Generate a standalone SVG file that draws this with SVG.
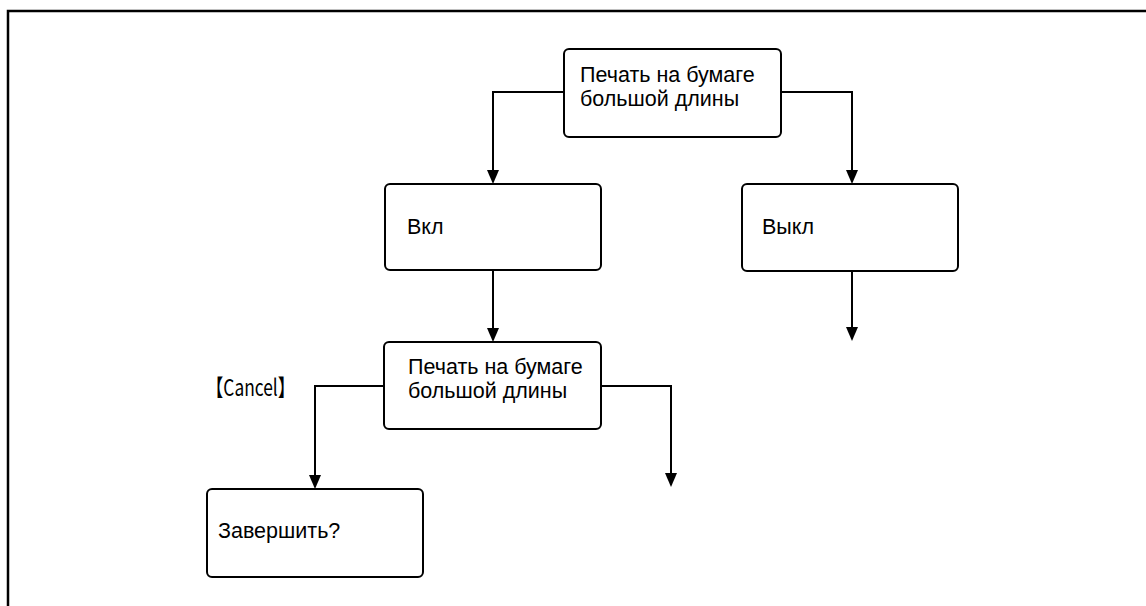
<svg xmlns="http://www.w3.org/2000/svg" width="1146" height="606" viewBox="0 0 1146 606">
<style>
.box{fill:#fff;stroke:#000;stroke-width:2}
.t{font-family:"Liberation Sans",Arial,sans-serif;font-size:21.5px;fill:#000}
.c{fill:none;stroke:#000;stroke-width:2}
.j{font-family:"Noto Sans CJK JP","DejaVu Sans Condensed",sans-serif;font-size:23px;fill:#000}
</style>
<path d="M8,606 V11 H1146" fill="none" stroke="#000" stroke-width="2.5"/>
<g id="connectors">
<path class="c" d="M564,92 H493 V170"/>
<path class="c" d="M781,92 H852 V170"/>
<path class="c" d="M493,270 V328"/>
<path class="c" d="M852,271 V327"/>
<path class="c" d="M384,386 H315 V475"/>
<path class="c" d="M601,386 H671 V473"/>
<path d="M487,170 H499 L493,184 Z"/>
<path d="M846,170 H858 L852,184 Z"/>
<path d="M487,328 H499 L493,342 Z"/>
<path d="M846,327 H858 L852,341 Z"/>
<path d="M309,475 H321 L315,489 Z"/>
<path d="M665,473 H677 L671,487 Z"/>
<text class="j" x="206" y="396" textLength="89" lengthAdjust="spacingAndGlyphs">【Cancel】</text>
</g>
<g id="n1">
<rect class="box" x="564" y="49" width="217" height="88" rx="5"/>
<text class="t" x="580" y="82">Печать на бумаге</text>
<text class="t" x="580" y="106">большой длины</text>
</g>
<g id="n2">
<rect class="box" x="385" y="184" width="216" height="86" rx="5"/>
<text class="t" x="407" y="234">Вкл</text>
</g>
<g id="n3">
<rect class="box" x="742" y="184" width="216" height="87" rx="5"/>
<text class="t" x="762" y="234">Выкл</text>
</g>
<g id="n4">
<rect class="box" x="384" y="342" width="217" height="87" rx="5"/>
<text class="t" x="408" y="374">Печать на бумаге</text>
<text class="t" x="408" y="398">большой длины</text>
</g>
<g id="n5">
<rect class="box" x="207" y="489" width="216" height="88" rx="5"/>
<text class="t" x="218" y="538">Завершить?</text>
</g>
</svg>
